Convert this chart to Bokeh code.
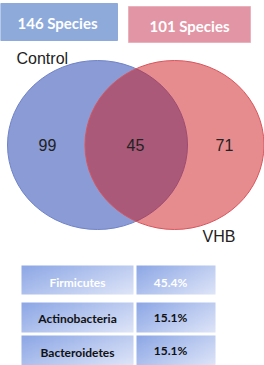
import numpy as np
from bokeh.plotting import figure
from bokeh.models import Range1d
from bokeh.core.properties import value
from bokeh.embed import file_html
from bokeh.resources import INLINE

# ---- data ----
header_labels = ["146 Species", "101 Species"]
set_names = ["Control", "VHB"]
region_counts = [99, 45, 71]          # Control only, shared, VHB only
phyla = ["Firmicutes", "Actinobacteria", "Bacteroidetes"]
phylum_pct = ["45.4%", "15.1%", "15.1%"]

# ---- layout (pixel-like coordinates, y downward) ----
W, H = 264, 365
p = figure(width=W, height=H, x_range=Range1d(0, W), y_range=Range1d(H, 0),
           output_backend="svg", toolbar_location=None, min_border=0)
p.axis.visible = False
p.grid.visible = False
p.outline_line_color = None
p.background_fill_color = "white"

# header boxes
p.quad(left=[0, 128], right=[117, 250], top=[3, 6], bottom=[40, 42],
       fill_color=["#8eaadb", "#e295a5"], line_color=["#8eaadb", "#eab0bc"], line_width=1)
p.text(x=[57, 189], y=[22, 25], text=header_labels, text_color="white",
       text_font=value("Lato"), text_font_style="bold", text_font_size="15px",
       text_align="center", text_baseline="middle")

# venn ellipses
p.ellipse(x=[97], y=[144.5], width=[180], height=[169], fill_color="#8a9bd6",
          line_color="#7083c8", line_width=1)
p.ellipse(x=[174], y=[144.5], width=[179], height=[169], fill_color="#cb1418",
          fill_alpha=0.49, line_color="#d9555c", line_width=1)

p.text(x=[47, 135, 224], y=[144, 144, 144], text=[str(c) for c in region_counts],
       text_color="#222222", text_font=value("Liberation Sans"), text_font_size="16px",
       text_align="center", text_baseline="middle")
p.text(x=[16, 202], y=[58, 236], text=set_names, text_color="#222222",
       text_font=value("Liberation Sans"), text_font_size="16px",
       text_align="left", text_baseline="middle")

# table cells with gradient
n = 32
gx, gy = np.meshgrid(np.linspace(0, 1, n), np.linspace(0, 1, n))
t = np.clip((gx * 0.6 + gy * 0.4), 0, 1)
c0 = np.array([142, 168, 230]); c1 = np.array([222, 229, 248])
img = np.zeros((n, n), dtype=np.uint32)
view = img.view(dtype=np.uint8).reshape((n, n, 4))
for k in range(3):
    view[:, :, k] = (c0[k] + (c1[k] - c0[k]) * t).astype(np.uint8)
view[:, :, 3] = 255

row_top = [265, 302, 335]
row_h = [29, 30, 30]
col_l = [21, 136]
col_w = [112, 79]
imgs, xs, ys, dws, dhs = [], [], [], [], []
for r in range(3):
    for c in range(2):
        imgs.append(img); xs.append(col_l[c]); ys.append(row_top[r])
        dws.append(col_w[c]); dhs.append(row_h[r])
p.image_rgba(image=imgs, x=xs, y=ys, dw=dws, dh=dhs)

txt_col = ["white", "#111111", "#111111"]
p.text(x=[77] * 3, y=[282, 318, 352], text=phyla, text_color=txt_col,
       text_font=value("Lato"), text_font_style="bold", text_font_size="12px",
       text_align="center", text_baseline="middle")
p.text(x=[170] * 3, y=[282, 317, 350], text=phylum_pct, text_color=txt_col,
       text_font=value("Lato"), text_font_style="bold", text_font_size="12px",
       text_align="center", text_baseline="middle")

open("out.html", "w").write(file_html(p, INLINE))
